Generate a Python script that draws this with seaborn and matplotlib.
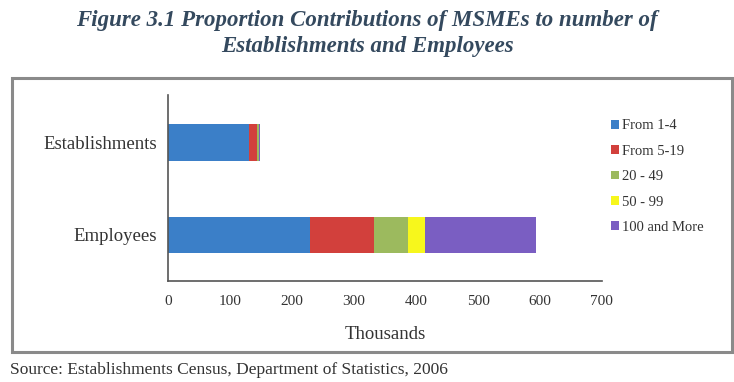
import matplotlib
matplotlib.use("Agg")
import matplotlib.pyplot as plt
from matplotlib.patches import Rectangle, Patch
import seaborn as sns
import pandas as pd
import numpy as np

# Values in thousands
categories = ["Establishments", "Employees"]
size_groups = ["From 1-4", "From 5-19", "20 - 49", "50 - 99", "100 and More"]
from_1_4 = [130, 229]
from_5_19 = [13, 103]
from_20_49 = [3, 55]
from_50_99 = [1, 28]
from_100_more = [1, 178]
colors = ["#3b7fc8", "#d2403c", "#9cba5e", "#f7f71c", "#7a5ec2"]

sns.set_theme(style="white")
plt.rcParams["font.family"] = ["Liberation Serif", "DejaVu Serif"]

series = [from_1_4, from_5_19, from_20_49, from_50_99, from_100_more]
cum = np.cumsum(np.array(series, dtype=float), axis=0)

fig = plt.figure(figsize=(7.34, 3.82), dpi=100)
ax = fig.add_axes([0.2293, 0.2644, 0.5907, 0.4869])

# Stacked bars: draw cumulative totals from the outermost layer inwards
for i in range(len(series) - 1, -1, -1):
    df = pd.DataFrame({"category": categories, "value": cum[i]})
    sns.barplot(data=df, x="value", y="category", order=categories,
                color=colors[i], saturation=1, width=0.4, orient="h",
                ax=ax, linewidth=0)

ax.set_xlim(0, 700)
ax.set_ylim(1.5, -0.52)
ax.set_xticks(np.arange(0, 701, 100))
ax.set_xlabel("Thousands", fontsize=13.5, color="#333333", labelpad=13)
ax.set_ylabel("")
ax.tick_params(axis="x", direction="inout", length=6, width=1, color="#555555",
               labelsize=11, labelcolor="#333333", pad=7)
ax.tick_params(axis="y", length=0, labelsize=13.5, labelcolor="#333333", pad=8)
for s in ["top", "right"]:
    ax.spines[s].set_visible(False)
for s in ["left", "bottom"]:
    ax.spines[s].set_color("#555555")
    ax.spines[s].set_linewidth(1.2)

handles = [Patch(facecolor=c, edgecolor="none") for c in colors]
fig.legend(handles, size_groups, loc="upper left", bbox_to_anchor=(0.815, 0.722),
           frameon=False, fontsize=10.5, handlelength=0.55, handleheight=0.55,
           handletextpad=0.15, labelspacing=0.85, labelcolor="#333333")

# Frame around the chart area
fig.patches.append(Rectangle((0.0163, 0.0785), 0.9807, 0.7175, transform=fig.transFigure,
                             fill=False, edgecolor="#8a8a8a", linewidth=2.2))

fig.text(0.5, 0.947, "Figure 3.1 Proportion Contributions of MSMEs to number of",
         ha="center", va="center", fontsize=16.5, fontweight="bold", fontstyle="italic",
         color="#34495e")
fig.text(0.5, 0.877, "Establishments and Employees",
         ha="center", va="center", fontsize=16.5, fontweight="bold", fontstyle="italic",
         color="#34495e")
fig.text(0.013, 0.032, "Source: Establishments Census, Department of Statistics, 2006",
         ha="left", va="center", fontsize=12.5, color="#333333")

fig.savefig("out.png", dpi=100)
